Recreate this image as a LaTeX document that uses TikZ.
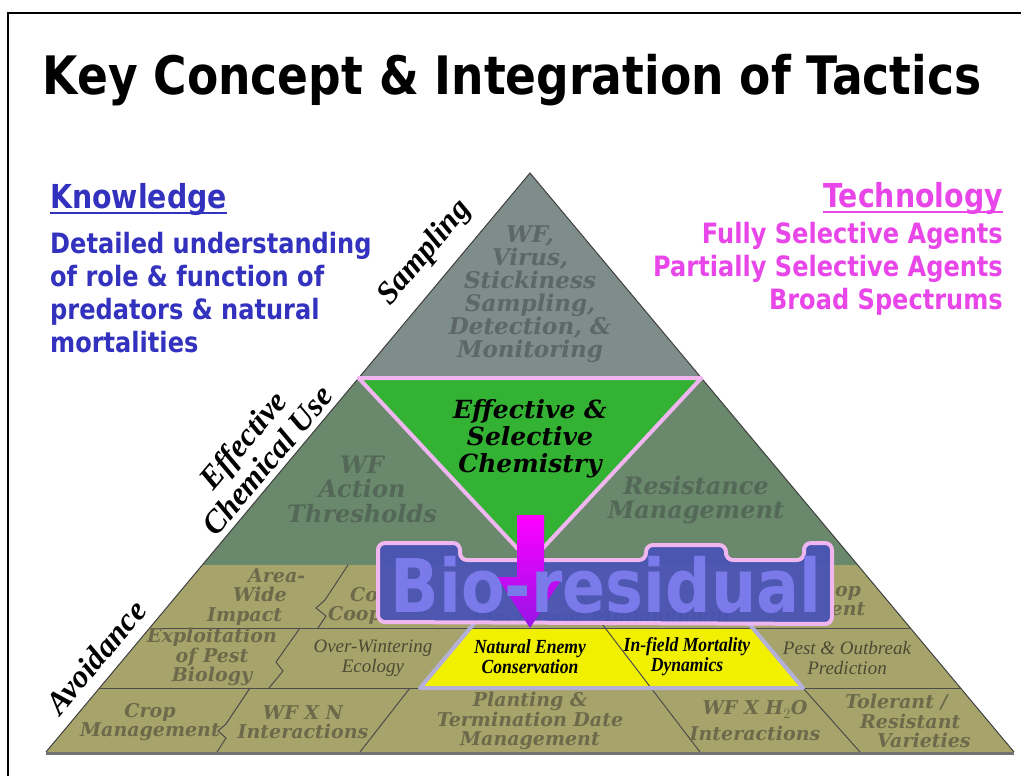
\documentclass[tikz,border=0pt]{standalone}
\usepackage{fontspec}
\setmainfont{Liberation Serif}
\newfontfamily\sansbold[FakeStretch=0.86]{DejaVu Sans}
\newfontfamily\wideserif{DejaVu Serif}
\newfontfamily\narrowserif[FakeStretch=0.88]{Liberation Serif}

\definecolor{topgray}{RGB}{126,140,138}
\definecolor{midgreen}{RGB}{106,136,108}
\definecolor{tanfill}{RGB}{166,164,106}
\definecolor{chemgreen}{RGB}{52,178,52}
\definecolor{hiyellow}{RGB}{240,240,0}
\definecolor{pinkedge}{RGB}{240,182,240}
\definecolor{lavedge}{RGB}{180,176,216}
\definecolor{blobblue}{RGB}{72,82,182}
\definecolor{bioletter}{RGB}{122,122,234}
\definecolor{toptextc}{RGB}{92,103,102}
\definecolor{midtextc}{RGB}{84,104,88}
\definecolor{tantext}{RGB}{108,106,74}
\definecolor{knowblue}{RGB}{50,50,190}
\definecolor{techpink}{RGB}{232,70,232}
\definecolor{arrowbottom}{RGB}{150,20,230}

\tikzset{
  tileline/.style={draw=black!70, line width=1pt},
  tiletext/.style={font=\wideserif\bfseries\itshape\fontsize{19}{19.5}\selectfont, text=tantext, align=center, inner sep=0pt},
  toptext/.style={tiletext, text=toptextc, font=\wideserif\bfseries\itshape\fontsize{23}{23}\selectfont},
  midtext/.style={tiletext, text=midtextc, font=\wideserif\bfseries\itshape\fontsize{24}{24.5}\selectfont},
  thintext/.style={tiletext, text=tantext!70!black, font=\itshape\fontsize{19}{20}\selectfont},
  yellowtext/.style={font=\narrowserif\bfseries\itshape\fontsize{20}{20}\selectfont, align=center, inner sep=0pt},
  sidelabel/.style={font=\bfseries\itshape\fontsize{32}{32}\selectfont, rotate=50, align=center, inner sep=0pt},
  headtext/.style={font=\sansbold\bfseries\fontsize{33}{33}\selectfont, inner sep=0pt},
  bodytext/.style={font=\sansbold\bfseries\fontsize{28}{33}\selectfont, inner sep=0pt}
}

\begin{document}
\begin{tikzpicture}[x=1pt,y=-1pt]
    \useasboundingbox (0,0) rectangle (1021,776);
    \draw[line width=2.5pt] (1021,13) -- (8,13) -- (8,776);
    \node[font=\sansbold\bfseries\fontsize{53}{53}\selectfont, anchor=base] (title) at (512,95) {Key Concept \& Integration of Tactics};

    % knowledge and technology
    \node[headtext, text=knowblue, anchor=base west] (know) at (50,208) {Knowledge};
    \draw[knowblue, line width=2pt] ([yshift=-5pt]know.base west) -- ([yshift=-5pt]know.base east);
    \node[bodytext, text=knowblue, anchor=north west, align=left] (detail) at (50,232) {Detailed understanding\\of role \& function of\\predators \& natural\\mortalities};
    \node[headtext, text=techpink, anchor=base east] (tech) at (1003,207) {Technology};
    \draw[techpink, line width=2pt] ([yshift=-5pt]tech.base west) -- ([yshift=-5pt]tech.base east);
    \node[bodytext, text=techpink, anchor=north east, align=right] (agents) at (1003,222) {Fully Selective Agents\\Partially Selective Agents\\Broad Spectrums};

    % pyramid tiers
    \fill[topgray] (530,173) -- (701.4,378) -- (358.6,378) -- cycle;
    \fill[midgreen] (358.6,378) -- (701.4,378) -- (857.7,565) -- (202.3,565) -- cycle;
    \fill[tanfill] (202.3,565) -- (857.7,565) -- (1014,752) -- (46,752) -- cycle;
    \fill[hiyellow] (470,628) -- (753,628) -- (803,688) -- (420,688) -- cycle;

    % tile borders
    \draw[tileline] (149.7,628) -- (910.3,628);
    \draw[tileline] (99.5,688) -- (960.5,688);
    \draw[tileline] (348,565) -- (325,600) -- (316,608) -- (326,616) -- (318,628);
    \draw[tileline] (300,628) -- (276,662) -- (283,671) -- (269,688);
    \draw[tileline] (250,688) -- (226,724) -- (218,731) -- (226,738) -- (217,752);
    \draw[tileline] (410,688) -- (360,752);
    \draw[tileline] (557,565) -- (700,752);
    \draw[tileline] (803,688) -- (860,752);
    \draw[lavedge, line width=4pt, line join=round] (477,620) -- (420,688) -- (803,688) -- (746,620);
    \draw[black!75, line width=1pt] (46,752) -- (530,173) -- (1014,752);
    \draw[black!55, line width=3pt] (46,753) -- (1014,753);

    % chemistry triangle
    \fill[chemgreen] (358.6,378) -- (701.4,378) -- (530,562) -- cycle;
    \draw[pinkedge, line width=4pt, line join=round] (358.6,378) -- (701.4,378) -- (530,562) -- cycle;

    % tile texts
    \node[toptext] (detect) at (530,294.5) {WF,\\Virus,\\Stickiness\\Sampling,\\Detection, \&\\Monitoring};
    \node[midtext] (thresh) at (362,489) {WF\\Action\\Thresholds};
    \node[midtext] (resist) at (696,500) {Resistance\\Management};
    \node[midtext, text=black, font=\wideserif\bfseries\itshape\fontsize{25}{27}\selectfont] (chem) at (530,439) {Effective \&\\Selective\\Chemistry};
    \node[tiletext, align=left, anchor=west] (areawide) at (207,597) {\hspace*{41pt}Area-\\\hspace*{26pt}Wide\\Impact};
    \node[tiletext, align=left, anchor=west] (coop) at (328,606) {\hspace*{22pt}Co\\Coop};
    \node[tiletext] (placement) at (528,617) {Placement};
    \node[tiletext] (manage) at (662,617) {Management};
    \node[tiletext] (cropop) at (848,601) {op\\ent};
    \node[tiletext] (exploit) at (212,657) {Exploitation\\of Pest\\Biology};
    \node[thintext] (winter) at (373,658) {Over-Wintering\\Ecology};
    \node[yellowtext] (enemy) at (530,657) {Natural Enemy\\Conservation};
    \node[yellowtext] (mortality) at (687,657) {In-field Mortality\\Dynamics};
    \node[thintext] (outbreak) at (847,658) {Pest \& Outbreak\\Prediction};
    \node[tiletext] (cropman) at (150,722) {Crop\\Management};
    \node[tiletext] (wfn) at (303,722) {WF X N\\Interactions};
    \node[tiletext] (planting) at (530,721) {Planting \&\\Termination Date\\Management};
    \node[tiletext, font=\wideserif\bfseries\itshape\fontsize{19}{26}\selectfont] (wfh) at (755,721) {WF X H$_2$O\\Interactions};
    \node[tiletext, align=left, anchor=west] (tolerant) at (845,721) {Tolerant /\\\hspace*{15pt}Resistant\\\hspace*{32pt}Varieties};

    % side labels
    \node[sidelabel] (sampling) at (425,253) {Sampling};
    \node[sidelabel] (chemuse) at (255,450) {Effective\\Chemical Use};
    \node[sidelabel] (avoid) at (96,657) {Avoidance};

    % bio-residual
    \draw[pinkedge, line width=4pt, fill=blobblue, fill opacity=0.92, rounded corners=7pt] (378,622) -- (378,543) -- (460,543) -- (460,560) -- (646,560) -- (646,545) -- (726,545) -- (726,560) -- (804,560) -- (804,543) -- (832,543) -- (832,624) -- cycle;
    \shade[top color=magenta, bottom color=arrowbottom] (517,515) -- (544,515) -- (544,577) -- (563,577) -- (530,628) -- (497,577) -- (517,577) -- cycle;
    \node[font=\sansbold\bfseries\fontsize{74}{74}\selectfont, text=bioletter, anchor=base, inner sep=0pt] (bio) at (606,612) {Bio-residual};
\end{tikzpicture}
\end{document}
